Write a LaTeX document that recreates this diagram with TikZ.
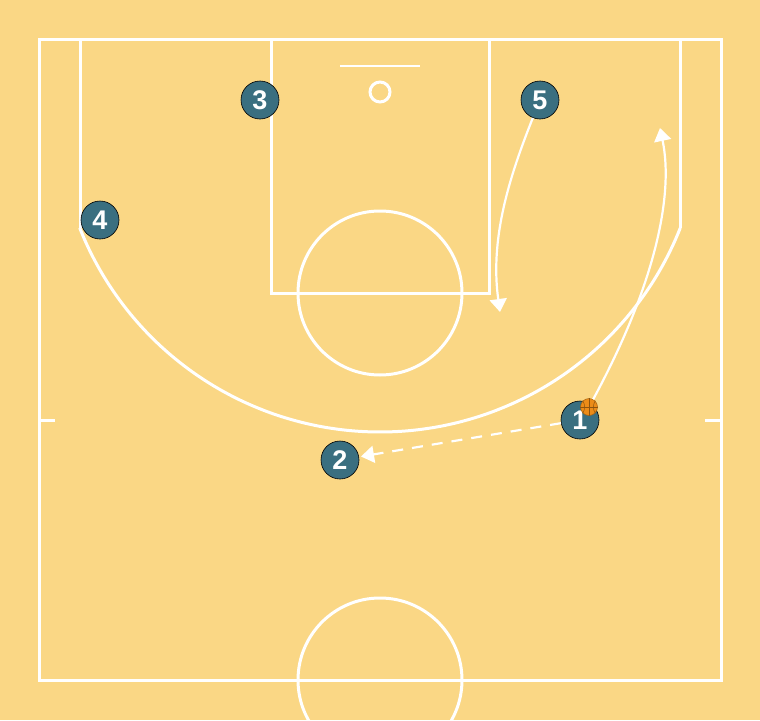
\documentclass[tikz,border=0pt]{standalone}
\usepackage{fontspec}
\setsansfont{Liberation Sans}
\usepackage{tikz}
\usetikzlibrary{positioning,arrows.meta,calc}
\definecolor{court}{RGB}{250,215,133}
\definecolor{player}{RGB}{58,111,128}
\definecolor{ballc}{RGB}{236,140,24}

\begin{document}
\begin{tikzpicture}[x=1pt,y=-1pt,
                courtline/.style={white,line width=3pt},
                ply/.style={circle,fill=player,draw=black,line width=0.6pt,minimum size=38pt,inner sep=0pt,
                    text=white,font=\sffamily\bfseries\fontsize{27}{27}\selectfont},
                move/.style={white,line width=2.2pt,-{Triangle[width=17pt,length=13pt]}},
                pass/.style={move,dash pattern=on 11pt off 9pt},
                ball/.style={circle,fill=ballc,draw=ballc!70!black,line width=0.5pt,minimum size=17pt,inner sep=0pt}
            ]
                \fill[court] (0,0) rectangle (760,720);
                \useasboundingbox (0,0) rectangle (760,720);

                % court
                \begin{scope}[courtline]
                    \draw (39,39) rectangle (721,680);
                    \draw (271,39) -- (271,293) -- (489,293) -- (489,39);
                    \draw (380,293) circle[radius=82pt];
                    \draw (380,680) circle[radius=82pt];
                    \draw (80,39) -- (80,228);
                    \draw (680,39) -- (680,228);
                    \draw plot[domain=158.4:21.6,samples=120,smooth] ({380+323*cos(\x)},{109+323*sin(\x)});
                    \draw (39,420) -- (55,420);
                    \draw (705,420) -- (721,420);
                    \draw[line width=2pt] (340,66) -- (420,66);
                    \draw (380,92) circle[radius=10pt];
                \end{scope}

                % players
                \node[ply] (p1) at (580,420) {1};
                \node[ply] (p2) at (340,460) {2};
                \node[ply] (p3) at (260,100) {3};
                \node[ply] (p4) at (100,220) {4};
                \node[ply] (p5) at (540,100) {5};

                \node[ball] (b) at (589,407) {};
                \draw[ballc!60!black,line width=0.5pt] (b.north) -- (b.south);
                \draw[ballc!60!black,line width=0.5pt] (b.west) -- (b.east);
                \draw[ballc!60!black,line width=0.5pt] (b.north west) to[bend left=30] (b.south west);
                \draw[ballc!60!black,line width=0.5pt] (b.north east) to[bend right=30] (b.south east);

                % actions
                \coordinate (c1) at (660,128);
                \coordinate (c5) at (500,312);
                \draw[move] (b) .. controls (655,285) and (674,195) .. (c1);
                \draw[move] (p5) .. controls (508,180) and (490,240) .. (c5);
                \draw[pass,shorten >=2pt] (p1) -- (p2);
            \end{tikzpicture}
\end{document}
